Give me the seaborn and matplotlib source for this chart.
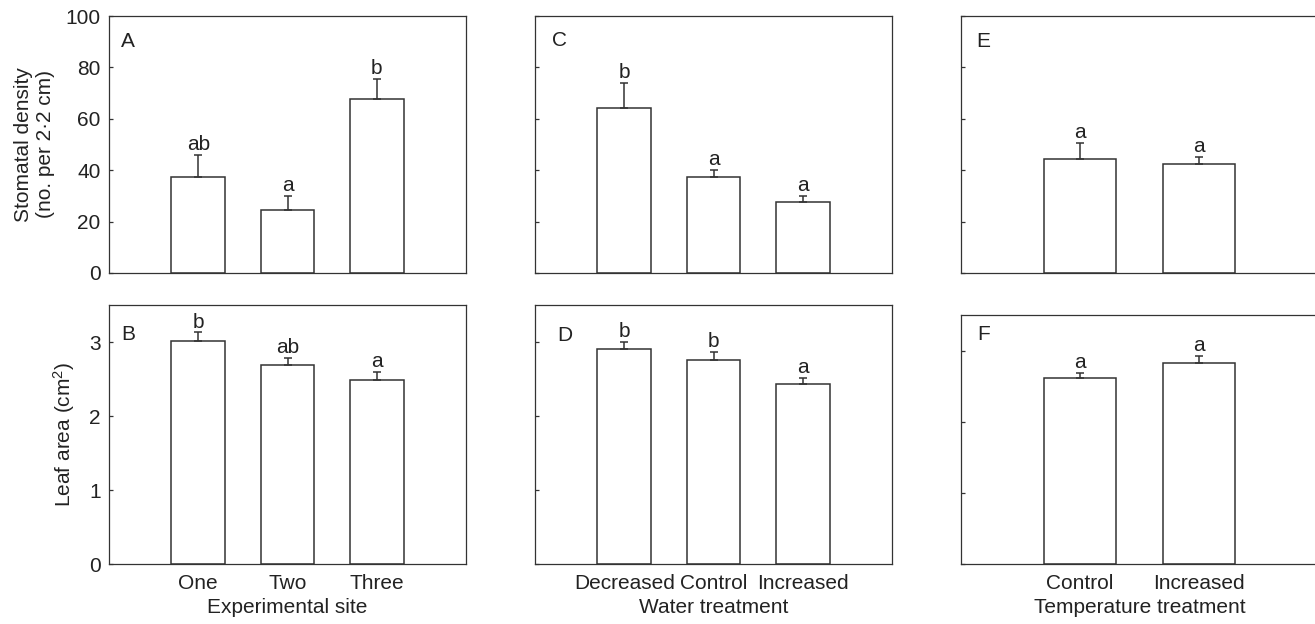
import numpy as np
import pandas as pd
import matplotlib
matplotlib.use("Agg")
import matplotlib.pyplot as plt
import seaborn as sns

# ---------------- data ----------------
site_cats = ["One", "Two", "Three"]
water_cats = ["Decreased", "Control", "Increased"]
temp_cats = ["Control", "Increased"]

stom_site = [37.2, 24.7, 67.8]
stom_site_se = [8.8, 5.4, 7.8]
stom_site_let = ["ab", "a", "b"]

stom_water = [64.3, 37.4, 27.6]
stom_water_se = [9.7, 2.6, 2.4]
stom_water_let = ["b", "a", "a"]

stom_temp = [44.4, 42.4]
stom_temp_se = [6.2, 2.7]
stom_temp_let = ["a", "a"]

leaf_site = [3.01, 2.69, 2.49]
leaf_site_se = [0.12, 0.10, 0.11]
leaf_site_let = ["b", "ab", "a"]

leaf_water = [2.90, 2.76, 2.43]
leaf_water_se = [0.10, 0.11, 0.09]
leaf_water_let = ["b", "b", "a"]

leaf_temp = [2.61, 2.82]
leaf_temp_se = [0.08, 0.10]
leaf_temp_let = ["a", "a"]

stom_ticks = [0, 20, 40, 60, 80, 100]
leaf_ticks = [0, 1, 2, 3]

# ---------------- style ----------------
sns.set_theme(style="white")
plt.rcParams["font.family"] = ["Liberation Sans", "DejaVu Sans"]
plt.rcParams["mathtext.default"] = "regular"
INK = "#333333"
TXT = "#222222"
FS = 15

W, H = 1315, 624
fig = plt.figure(figsize=(W / 100, H / 100), dpi=100)


def add_ax(left, top, right, bottom):
    return fig.add_axes([left / W, 1 - bottom / H, (right - left) / W, (bottom - top) / H])


def panel(ax, cats, means, ses, letters, ylim, yticks, tag, tagpos,
          show_ylabels, show_xlabels, xlabel=None, ylabel=None, ylabel_x=None):
    df = pd.DataFrame({"cat": cats, "val": means})
    sns.barplot(data=df, x="cat", y="val", order=cats, color="white",
                edgecolor=INK, linewidth=1.1, width=0.6, saturation=1,
                errorbar=None, ax=ax)
    n = len(cats)
    x = np.arange(n)
    m = np.asarray(means)
    s = np.asarray(ses)
    ax.errorbar(x, m, yerr=[np.zeros(n), s], fmt="none", ecolor=INK,
                elinewidth=1.1, capsize=3.2, capthick=1.1, zorder=3)
    for xi, mi, si, lt in zip(x, m, s, letters):
        ax.annotate(lt, xy=(xi, mi + si), xytext=(0, 3.5), textcoords="offset points",
                    ha="center", va="baseline", fontsize=FS, color=TXT)
    ax.set_xlim(-1, n)
    ax.set_ylim(*ylim)
    ax.set_yticks(yticks)
    ax.tick_params(axis="both", which="major", direction="in", length=3.2, width=0.9,
                   color=INK, labelsize=FS, labelcolor=TXT, pad=6,
                   left=True, bottom=True, right=False, top=False)
    ax.tick_params(axis="x", pad=7)
    if not show_ylabels:
        ax.set_yticklabels([])
    if not show_xlabels:
        ax.set_xticklabels([])
    ax.set_xlabel(xlabel if xlabel else "", fontsize=FS, color=TXT, labelpad=4)
    ax.set_ylabel(ylabel if ylabel else "", fontsize=FS, color=TXT)
    if ylabel_x is not None:
        ax.yaxis.set_label_coords(ylabel_x, 0.5)
    for sp in ax.spines.values():
        sp.set_visible(True)
        sp.set_color(INK)
        sp.set_linewidth(0.9)
    ax.text(tagpos[0], tagpos[1], tag, transform=ax.transAxes, fontsize=FS,
            color=TXT, ha="left", va="baseline")


axA = add_ax(109, 16, 466, 273)
axC = add_ax(535, 16, 892, 273)
axE = add_ax(961, 16, 1318, 273)
axB = add_ax(109, 305, 466, 564)
axD = add_ax(535, 305, 892, 564)
axF = add_ax(961, 315, 1318, 564)

panel(axA, site_cats, stom_site, stom_site_se, stom_site_let, (0, 100), stom_ticks,
      "A", (0.034, 0.88), True, False,
      ylabel="Stomatal density\n(no. per 2\u00b72 cm)", ylabel_x=-0.152)
panel(axC, water_cats, stom_water, stom_water_se, stom_water_let, (0, 100), stom_ticks,
      "C", (0.048, 0.883), False, False)
panel(axE, temp_cats, stom_temp, stom_temp_se, stom_temp_let, (0, 100), stom_ticks,
      "E", (0.042, 0.88), False, False)
panel(axB, site_cats, leaf_site, leaf_site_se, leaf_site_let, (0, 3.5), leaf_ticks,
      "B", (0.034, 0.865), True, True, xlabel="Experimental site",
      ylabel=r"Leaf area (cm$^{2}$)", ylabel_x=-0.09)
panel(axD, water_cats, leaf_water, leaf_water_se, leaf_water_let, (0, 3.5), leaf_ticks,
      "D", (0.062, 0.861), False, True, xlabel="Water treatment")
panel(axF, temp_cats, leaf_temp, leaf_temp_se, leaf_temp_let, (0, 3.5), leaf_ticks,
      "F", (0.045, 0.90), False, True, xlabel="Temperature treatment")

fig.savefig("out.png", dpi=100, facecolor="white")
